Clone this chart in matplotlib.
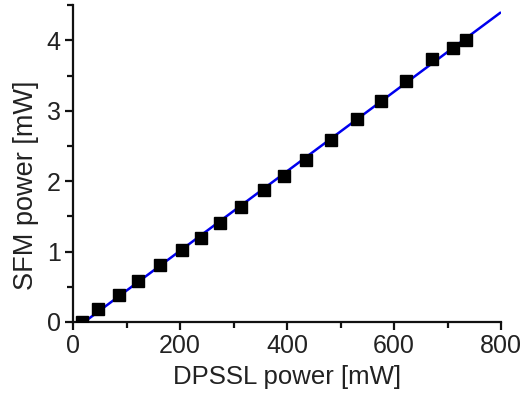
import matplotlib
matplotlib.use("Agg")
import matplotlib.pyplot as plt
from matplotlib.ticker import MultipleLocator

dpssl_mw = [16, 47, 85, 122, 163, 203, 239, 275, 313, 356, 394, 435, 482,
            531, 576, 622, 670, 710, 734]
sfm_mw = [0.00, 0.19, 0.38, 0.58, 0.81, 1.02, 1.19, 1.40, 1.64, 1.87, 2.07,
          2.30, 2.58, 2.88, 3.14, 3.43, 3.74, 3.89, 4.00]

# linear fit line end points
fit_x = [21, 798]
fit_y = [0.0, 4.39]

plt.rcParams['font.family'] = ['Liberation Sans', 'DejaVu Sans']

fig = plt.figure(figsize=(5.22, 3.98), dpi=100)
ax = fig.add_axes([0.140, 0.191, 0.820, 0.796])

ax.plot(fit_x, fit_y, color="#0000ee", linewidth=1.8, zorder=2)
ax.plot(dpssl_mw, sfm_mw, linestyle="none", marker="s", markersize=8.5,
        color="black", zorder=3)

ax.set_xlim(0, 800)
ax.set_ylim(0, 4.5)
ax.xaxis.set_major_locator(MultipleLocator(200))
ax.xaxis.set_minor_locator(MultipleLocator(100))
ax.yaxis.set_major_locator(MultipleLocator(1))
ax.yaxis.set_minor_locator(MultipleLocator(0.5))

for s in ["top", "right"]:
    ax.spines[s].set_visible(False)
for s in ["left", "bottom"]:
    ax.spines[s].set_linewidth(1.6)
    ax.spines[s].set_color("#111111")

ax.tick_params(which="major", direction="out", length=6, width=1.6,
               labelsize=18, colors="#111111", labelcolor="#222222", pad=3)
ax.tick_params(which="minor", direction="out", length=4, width=1.6,
               colors="#111111")

ax.set_xlabel("DPSSL power [mW]", fontsize=18.5, color="#222222")
ax.set_ylabel("SFM power [mW]", fontsize=19.5, color="#222222")
ax.xaxis.set_label_coords(0.5, -0.135)
ax.yaxis.set_label_coords(-0.08, 0.43)

fig.savefig("out.png", dpi=100)
